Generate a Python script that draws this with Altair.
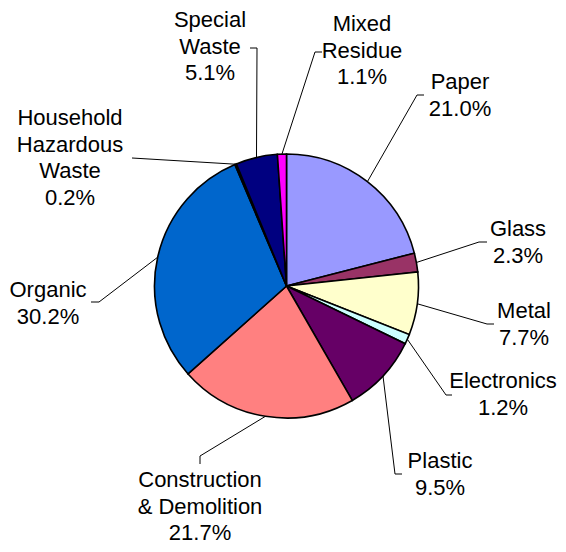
import math
import altair as alt
import pandas as pd

# ---- data ----
categories = ["Paper", "Glass", "Metal", "Electronics", "Plastic",
              "Construction & Demolition", "Organic", "Household Hazardous Waste",
              "Special Waste", "Mixed Residue"]
label_names = ["Paper", "Glass", "Metal", "Electronics", "Plastic",
               "Construction\n& Demolition", "Organic", "Household\nHazardous\nWaste",
               "Special\nWaste", "Mixed\nResidue"]
values = [21.0, 2.3, 7.7, 1.2, 9.5, 21.7, 30.2, 0.2, 5.1, 1.1]
colors = ["#9999FF", "#993366", "#FFFFCC", "#CCFFFF", "#660066",
          "#FF8080", "#0066CC", "#000000", "#000080", "#FF00FF"]

# ---- layout (page pixel coordinates; y = centre of first text line) ----
M = 8
CX, CY, R = 286.5, 286.0, 132.0
label_anchor = {
    "Paper": (460, 82), "Glass": (518, 229), "Metal": (524, 311),
    "Electronics": (503, 381), "Plastic": (440, 461),
    "Construction & Demolition": (200, 480), "Organic": (48, 290),
    "Household Hazardous Waste": (70, 118), "Special Waste": (210, 20),
    "Mixed Residue": (362, 24),
}
leader_tail = {
    "Paper": [(417, 95), (424, 95)],
    "Glass": [(479, 242), (487, 242)],
    "Metal": [(487, 324), (494, 324)],
    "Electronics": [(446, 395), (452, 395)],
    "Plastic": [(395, 474), (402, 474)],
    "Construction & Demolition": [(200, 456), (200, 464)],
    "Organic": [(99, 302), (91, 302)],
    "Household Hazardous Waste": [(132, 158)],
    "Special Waste": [(257, 48), (250, 48)],
    "Mixed Residue": [(315, 52), (322, 52)],
}

total = sum(values)
pie_rows, line_rows, text_rows = [], [], []
cum = 0.0
for i, (c, ln, v) in enumerate(zip(categories, label_names, values)):
    pie_rows.append({"idx": i, "category": c, "value": v})
    mid = (cum + v / 2) / total * 2 * math.pi
    cum += v
    ex = CX + R * math.sin(mid)
    ey = CY - R * math.cos(mid)
    pts = [(ex, ey)] + leader_tail[c]
    for s, (px, py) in enumerate(pts):
        line_rows.append({"category": c, "step": s, "px": px - M, "py": py - M})
    lx, ly = label_anchor[c]
    text_rows.append({"category": c, "label": f"{ln}\n{v:.1f}%", "px": lx - M, "py": ly - M})

pie_df = pd.DataFrame(pie_rows)
line_df = pd.DataFrame(line_rows)
text_df = pd.DataFrame(text_rows)

pie = alt.Chart(pie_df).mark_arc(radius=R, stroke="black", strokeWidth=1.6).encode(
    theta=alt.Theta("value:Q", stack=True),
    color=alt.Color("category:N", scale=alt.Scale(domain=categories, range=colors), legend=None),
    order=alt.Order("idx:Q"),
    x=alt.value(CX - M),
    y=alt.value(CY - M),
)

leaders = alt.Chart(line_df).mark_line(color="black", strokeWidth=1).encode(
    x=alt.X("px:Q", scale=None, axis=None),
    y=alt.Y("py:Q", scale=None, axis=None),
    detail="category:N",
    order="step:Q",
)

labels = alt.Chart(text_df).mark_text(
    font="Liberation Sans", fontSize=22, lineBreak="\n", lineHeight=26.5,
    align="center", baseline="middle", color="black",
).encode(
    x=alt.X("px:Q", scale=None, axis=None),
    y=alt.Y("py:Q", scale=None, axis=None),
    text="label:N",
)

chart = alt.layer(leaders, pie, labels).properties(
    width=550, height=536, autosize=alt.AutoSizeParams(type="none"), padding=0,
    background="white",
).configure_view(stroke=None)

chart.save("out.html", embed_options={"renderer": "svg", "actions": False})
